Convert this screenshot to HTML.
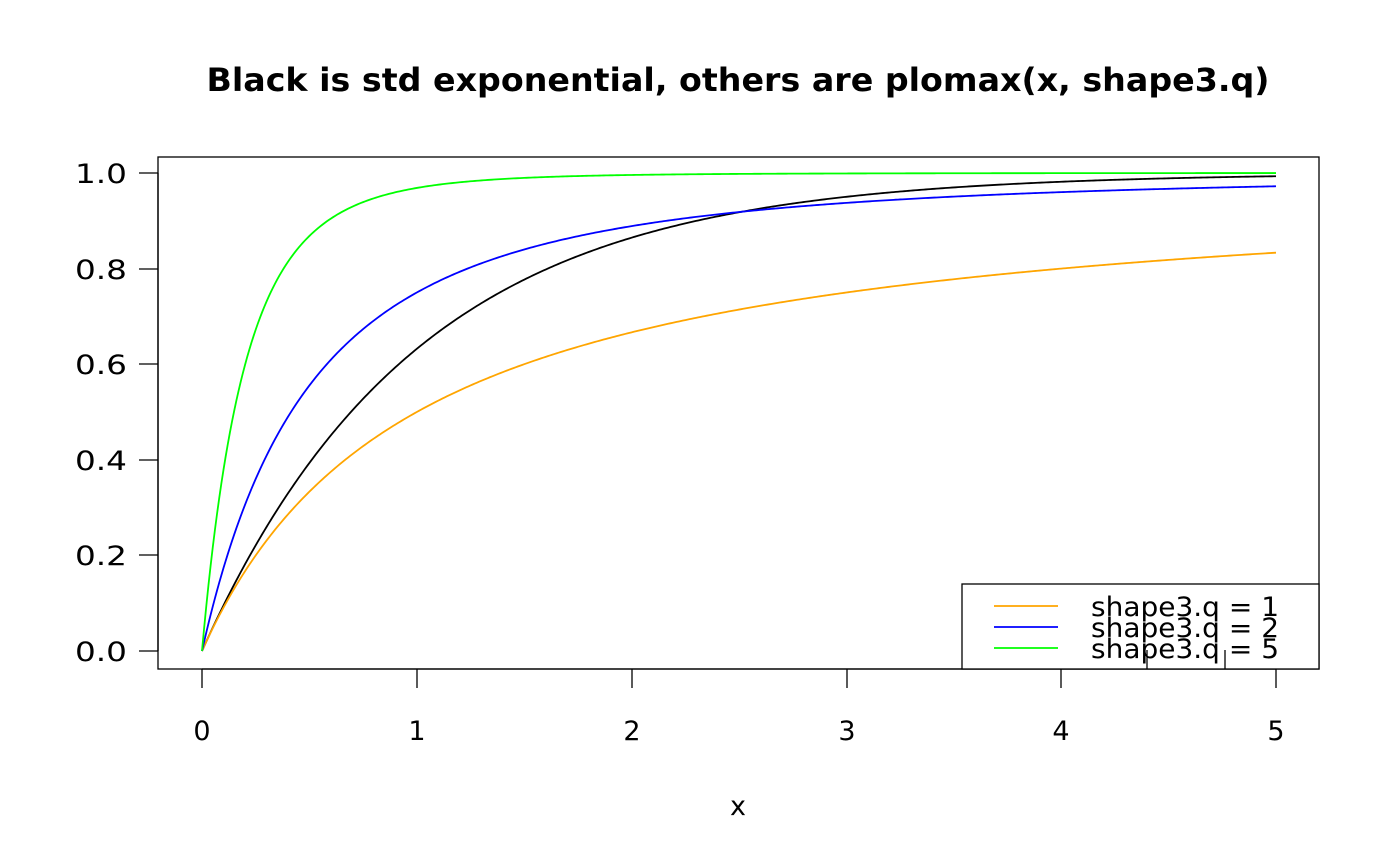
<!DOCTYPE html>
<html><head><meta charset="utf-8"><style>
html,body{margin:0;padding:0;background:#fff;}
svg{display:block;font-family:"DejaVu Sans","Liberation Sans",sans-serif;}
</style></head><body>
<svg id="s" width="1400" height="866" viewBox="0 0 1400 866" xmlns="http://www.w3.org/2000/svg">
<rect width="1400" height="866" fill="#fff"/>
<text x="738" y="91" font-size="32" font-weight="bold" text-anchor="middle" textLength="1063" lengthAdjust="spacingAndGlyphs">Black is std exponential, others are plomax(x, shape3.q)</text>
<rect x="158" y="157" width="1161" height="512" fill="none" stroke="#000" stroke-width="1.3"/>
<g stroke="#000" stroke-width="1.3">
<line x1="202" y1="669" x2="1276" y2="669"/>
<line x1="202" y1="669" x2="202" y2="688"/><line x1="417" y1="669" x2="417" y2="688"/>
<line x1="632" y1="669" x2="632" y2="688"/><line x1="847" y1="669" x2="847" y2="688"/>
<line x1="1061" y1="669" x2="1061" y2="688"/><line x1="1276" y1="669" x2="1276" y2="688"/>
<line x1="158" y1="651" x2="158" y2="173"/>
<line x1="139" y1="651" x2="158" y2="651"/><line x1="139" y1="555" x2="158" y2="555"/>
<line x1="139" y1="460" x2="158" y2="460"/><line x1="139" y1="364" x2="158" y2="364"/>
<line x1="139" y1="269" x2="158" y2="269"/><line x1="139" y1="173" x2="158" y2="173"/>
</g>
<g font-size="27" text-anchor="middle">
<text x="202" y="740">0</text><text x="417" y="740">1</text><text x="632" y="740">2</text>
<text x="847" y="740">3</text><text x="1061" y="740">4</text><text x="1276" y="740">5</text>
<text x="738" y="815">x</text>
</g>
<g font-size="27">
<text x="75" y="661" textLength="52" lengthAdjust="spacingAndGlyphs">0.0</text>
<text x="75" y="565" textLength="52" lengthAdjust="spacingAndGlyphs">0.2</text>
<text x="75" y="470" textLength="52" lengthAdjust="spacingAndGlyphs">0.4</text>
<text x="75" y="374" textLength="52" lengthAdjust="spacingAndGlyphs">0.6</text>
<text x="75" y="279" textLength="52" lengthAdjust="spacingAndGlyphs">0.8</text>
<text x="75" y="183" textLength="52" lengthAdjust="spacingAndGlyphs">1.0</text>
</g>
<g id="curves" fill="none" stroke-width="1.8"></g>
<rect x="962" y="584" width="357" height="85" fill="#fff" stroke="#000" stroke-width="1.3"/>
<line x1="1147" y1="650" x2="1147" y2="669" stroke="#000" stroke-width="1.3"/>
<line x1="1225" y1="650" x2="1225" y2="669" stroke="#000" stroke-width="1.3"/>
<line x1="994" y1="606" x2="1058" y2="606" stroke="orange" stroke-width="1.8"/>
<line x1="994" y1="627" x2="1058" y2="627" stroke="blue" stroke-width="1.8"/>
<line x1="994" y1="648" x2="1058" y2="648" stroke="#00ff00" stroke-width="1.8"/>
<g font-size="27">
<text x="1091" y="616" textLength="188" lengthAdjust="spacingAndGlyphs">shape3.q = 1</text>
<text x="1091" y="637" textLength="188" lengthAdjust="spacingAndGlyphs">shape3.q = 2</text>
<text x="1091" y="658" textLength="188" lengthAdjust="spacingAndGlyphs">shape3.q = 5</text>
</g>
</svg>
<script>
(function(){
var g=document.getElementById('curves');
function X(x){return 202+x*214.8;}function Y(y){return 651-y*478;}
var fs=[["#000",function(x){return 1-Math.exp(-x);}],
["orange",function(x){return 1-Math.pow(1+x,-1);}],
["blue",function(x){return 1-Math.pow(1+x,-2);}],
["#00ff00",function(x){return 1-Math.pow(1+x,-5);}]];
fs.forEach(function(f){var d="";for(var i=0;i<=500;i++){var x=i/100;d+=(i?"L":"M")+X(x).toFixed(2)+","+Y(f[1](x)).toFixed(2);}
var p=document.createElementNS("http://www.w3.org/2000/svg","path");p.setAttribute("d",d);p.setAttribute("stroke",f[0]);g.appendChild(p);});
})();
</script>
</body></html>
